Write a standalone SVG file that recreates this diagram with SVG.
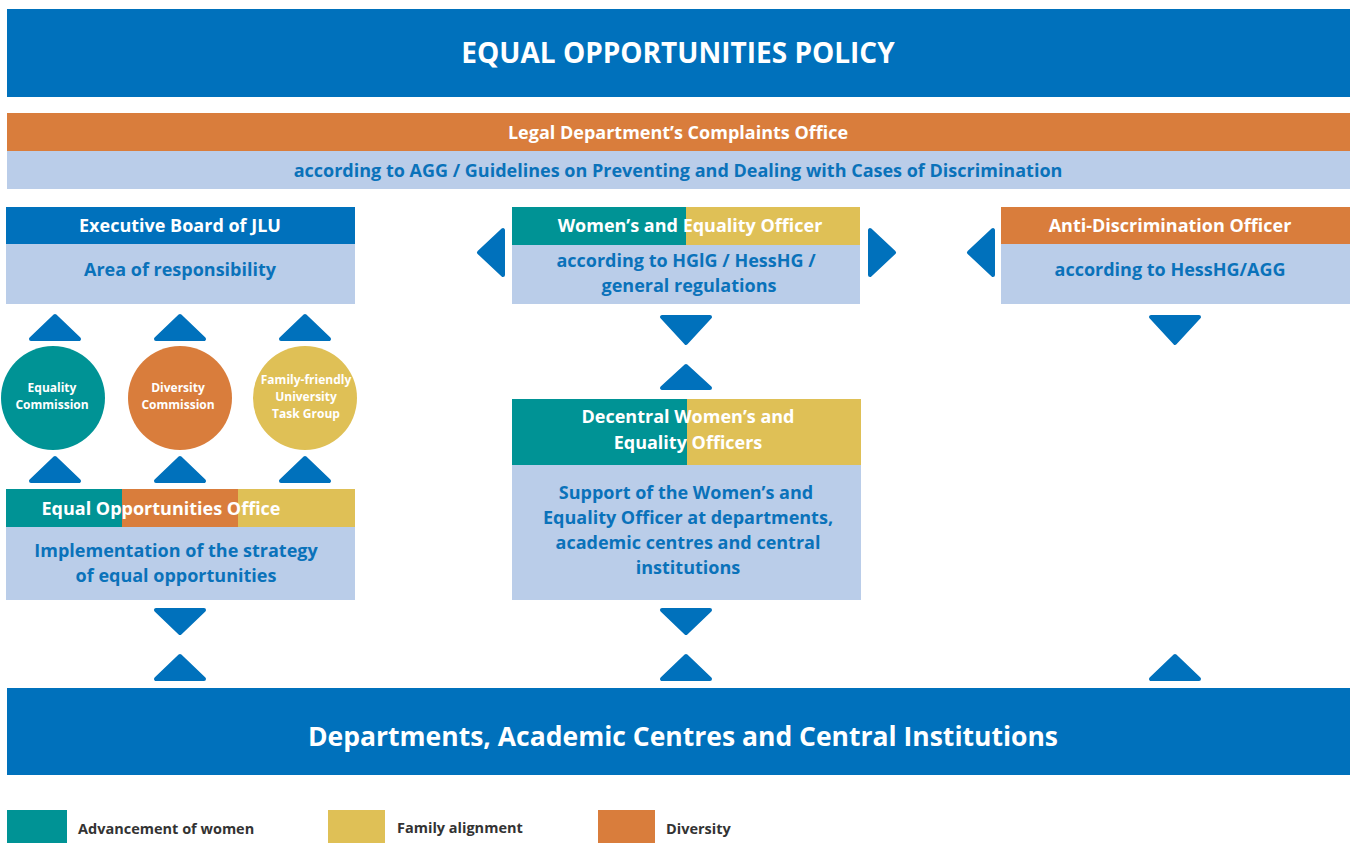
<svg xmlns="http://www.w3.org/2000/svg" width="1357" height="843" viewBox="0 0 1357 843">
  <defs>
    <style>
      .blue { fill: #0071BC; }
      .orange { fill: #D97D3C; }
      .light { fill: #BACDE9; }
      .teal { fill: #009395; }
      .yellow { fill: #DFC056; }
      .t { font-family: "Open Sans", "Noto Sans", "DejaVu Sans", sans-serif; font-weight: 700; text-anchor: middle; }
      .w { fill: #FFFFFF; }
      .b { fill: #0A72BA; }
      .hdr { font-size: 18px; }
      .body { font-size: 18px; }
      .circ { font-size: 12px; }
      .leg { font-family: "Open Sans", "Noto Sans", "DejaVu Sans", sans-serif; font-weight: 700; font-size: 14.5px; fill: #333333; }
      .arrow { fill: #0071BC; stroke: #0071BC; stroke-width: 4; stroke-linejoin: round; }
    </style>
  </defs>

  <!-- policy banner -->
  <g id="policy">
    <rect class="blue" x="7" y="9" width="1343" height="88"/>
    <text class="t w" x="678" y="63" font-size="28">EQUAL OPPORTUNITIES POLICY</text>
  </g>

  <!-- complaints office -->
  <g id="complaints">
    <rect class="orange" x="7" y="113" width="1343" height="38"/>
    <rect class="light" x="7" y="151" width="1343" height="38"/>
    <text class="t w hdr" x="678" y="139">Legal Department’s Complaints Office</text>
    <text class="t b hdr" x="678" y="177">according to AGG / Guidelines on Preventing and Dealing with Cases of Discrimination</text>
  </g>

  <!-- executive board -->
  <g id="executive-board">
    <rect class="blue" x="6" y="207" width="349" height="37"/>
    <rect class="light" x="6" y="244" width="349" height="60"/>
    <text class="t w hdr" x="180" y="232">Executive Board of JLU</text>
    <text class="t b body" x="180" y="276">Area of responsibility</text>
  </g>

  <!-- women's and equality officer -->
  <g id="womens-officer">
    <rect class="teal" x="512" y="207" width="175" height="38"/>
    <rect class="yellow" x="686" y="207" width="174" height="38"/>
    <rect class="light" x="512" y="245" width="348" height="59"/>
    <text class="t w hdr" x="690" y="232">Women’s and Equality Officer</text>
    <text class="t b body" x="686" y="267">according to HGlG / HessHG /</text>
    <text class="t b body" x="689" y="292">general regulations</text>
  </g>

  <!-- anti-discrimination officer -->
  <g id="anti-discrimination">
    <rect class="orange" x="1001" y="207" width="349" height="37"/>
    <rect class="light" x="1001" y="244" width="349" height="60"/>
    <text class="t w hdr" x="1170" y="232">Anti-Discrimination Officer</text>
    <text class="t b body" x="1170" y="276">according to HessHG/AGG</text>
  </g>

  <!-- commissions -->
  <g id="equality-commission">
    <circle class="teal" cx="53" cy="398" r="52"/>
    <text class="t w circ" x="52" y="392">Equality</text>
    <text class="t w circ" x="52" y="409">Commission</text>
  </g>
  <g id="diversity-commission">
    <circle class="orange" cx="180" cy="398" r="52"/>
    <text class="t w circ" x="178" y="392">Diversity</text>
    <text class="t w circ" x="178" y="409">Commission</text>
  </g>
  <g id="family-task-group">
    <circle class="yellow" cx="305" cy="398" r="52"/>
    <text class="t w circ" x="306" y="384">Family-friendly</text>
    <text class="t w circ" x="306" y="401">University</text>
    <text class="t w circ" x="306" y="418">Task Group</text>
  </g>

  <!-- equal opportunities office -->
  <g id="equal-opportunities-office">
    <rect class="teal" x="6" y="489" width="117" height="38"/>
    <rect class="orange" x="122" y="489" width="117" height="38"/>
    <rect class="yellow" x="238" y="489" width="117" height="38"/>
    <rect class="light" x="6" y="527" width="349" height="73"/>
    <text class="t w hdr" x="161" y="515">Equal Opportunities Office</text>
    <text class="t b body" x="176" y="557">Implementation of the strategy</text>
    <text class="t b body" x="176" y="582">of equal opportunities</text>
  </g>

  <!-- decentral officers -->
  <g id="decentral-officers">
    <rect class="teal" x="512" y="399" width="176" height="66"/>
    <rect class="yellow" x="687" y="399" width="174" height="66"/>
    <rect class="light" x="512" y="465" width="349" height="135"/>
    <text class="t w hdr" x="688" y="423">Decentral Women’s and</text>
    <text class="t w hdr" x="688" y="449">Equality Officers</text>
    <text class="t b body" x="686" y="499">Support of the Women’s and</text>
    <text class="t b body" x="688" y="524">Equality Officer at departments,</text>
    <text class="t b body" x="688" y="549">academic centres and central</text>
    <text class="t b body" x="688" y="574">institutions</text>
  </g>

  <!-- departments banner -->
  <g id="departments">
    <rect class="blue" x="7" y="688" width="1343" height="87"/>
    <text class="t w" x="683" y="746" font-size="26.5">Departments, Academic Centres and Central Institutions</text>
  </g>

  <!-- connectors -->
  <g id="connectors">
    <!-- up arrows above circles -->
    <path class="arrow" d="M31,339 L55,316 L79,339 Z"/>
    <path class="arrow" d="M156,339 L180,316 L204,339 Z"/>
    <path class="arrow" d="M281,339 L305,316 L329,339 Z"/>
    <!-- up arrows below circles -->
    <path class="arrow" d="M31,481 L55,458 L79,481 Z"/>
    <path class="arrow" d="M156,481 L180,458 L204,481 Z"/>
    <path class="arrow" d="M281,481 L305,458 L329,481 Z"/>
    <!-- side arrows around women's officer -->
    <path class="arrow" d="M503,230 L503,275 L479,252.5 Z"/>
    <path class="arrow" d="M870,230 L870,275 L894,252.5 Z"/>
    <path class="arrow" d="M993,230 L993,275 L969,252.5 Z"/>
    <!-- between women's officer and decentral officers -->
    <path class="arrow" d="M662,317 L710,317 L686,343 Z"/>
    <path class="arrow" d="M662,388 L710,388 L686,366 Z"/>
    <!-- under anti-discrimination -->
    <path class="arrow" d="M1151,317 L1199,317 L1175,343 Z"/>
    <!-- down arrows to departments -->
    <path class="arrow" d="M156,610 L204,610 L180,633 Z"/>
    <path class="arrow" d="M662,610 L710,610 L686,633 Z"/>
    <!-- up arrows from departments -->
    <path class="arrow" d="M156,679 L204,679 L180,656 Z"/>
    <path class="arrow" d="M662,679 L710,679 L686,656 Z"/>
    <path class="arrow" d="M1151,679 L1199,679 L1175,656 Z"/>
  </g>

  <!-- legend -->
  <g id="legend">
    <rect class="teal" x="7" y="810" width="60" height="33"/>
    <text class="leg" x="78" y="834">Advancement of women</text>
    <rect class="yellow" x="328" y="810" width="57" height="33"/>
    <text class="leg" x="397" y="833">Family alignment</text>
    <rect class="orange" x="598" y="810" width="57" height="33"/>
    <text class="leg" x="666" y="834">Diversity</text>
  </g>
</svg>
